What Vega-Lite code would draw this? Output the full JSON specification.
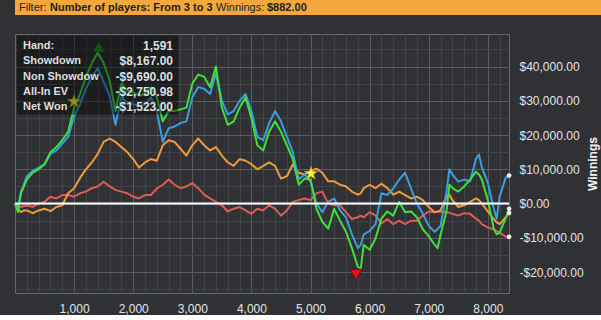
{
  "$schema": "https://vega.github.io/schema/vega-lite/v6.json",
  "background": "#2f3134",
  "padding": 0,
  "spacing": 18,
  "config": {
    "font": "Liberation Sans",
    "axis": {"labelFont": "Liberation Sans", "titleFont": "Liberation Sans"},
    "text": {"font": "Liberation Sans"}
  },
  "datasets": {
    "header": [{"f": "Filter:", "p": "Number of players: From 3 to 3", "wl": "Winnings:", "wv": "$882.00"}],
    "summary": [
      {"k": "Hand:", "v": "1,591"},
      {"k": "Showdown", "v": "$8,167.00"},
      {"k": "Non Showdown", "v": "-$9,690.00"},
      {"k": "All-In EV", "v": "-$2,750.98"},
      {"k": "Net Won", "v": "-$1,523.00"}
    ],
    "marks": [
      {"m": "max", "h": 1421, "w": 45700},
      {"m": "min", "h": 5770, "w": -20700},
      {"m": "star", "h": 998, "w": 29800},
      {"m": "star", "h": 5008, "w": 8800}
    ],
    "series": [
      {"h": 0, "sd": 0, "ns": 0, "ev": 0, "nw": 0},
      {"h": 50, "sd": -1500, "ns": -500, "ev": -1500, "nw": -2500},
      {"h": 100, "sd": 3500, "ns": -1000, "ev": -2500, "nw": 3000},
      {"h": 150, "sd": 5500, "ns": -800, "ev": -2000, "nw": 5000},
      {"h": 200, "sd": 8000, "ns": -500, "ev": -2000, "nw": 7000},
      {"h": 300, "sd": 9500, "ns": -1000, "ev": -2800, "nw": 9000},
      {"h": 400, "sd": 10500, "ns": 0, "ev": -2000, "nw": 10000},
      {"h": 500, "sd": 11500, "ns": 500, "ev": -1500, "nw": 11500},
      {"h": 600, "sd": 14500, "ns": 2000, "ev": -2200, "nw": 15000},
      {"h": 700, "sd": 15500, "ns": 1500, "ev": -1000, "nw": 16500},
      {"h": 800, "sd": 17500, "ns": 2500, "ev": -500, "nw": 18500},
      {"h": 900, "sd": 19500, "ns": 2500, "ev": 3000, "nw": 21000},
      {"h": 1000, "sd": 25500, "ns": 2000, "ev": 4500, "nw": 28000},
      {"h": 1100, "sd": 29000, "ns": 3000, "ev": 7500, "nw": 32000},
      {"h": 1200, "sd": 33500, "ns": 3500, "ev": 10000, "nw": 37000},
      {"h": 1300, "sd": 37000, "ns": 4500, "ev": 12000, "nw": 41000},
      {"h": 1400, "sd": 39500, "ns": 5000, "ev": 14500, "nw": 44000},
      {"h": 1500, "sd": 35500, "ns": 6400, "ev": 18000, "nw": 41000},
      {"h": 1600, "sd": 31500, "ns": 5000, "ev": 19000, "nw": 36000},
      {"h": 1700, "sd": 23000, "ns": 4000, "ev": 18000, "nw": 27000},
      {"h": 1800, "sd": 31000, "ns": 3500, "ev": 16500, "nw": 35000},
      {"h": 1900, "sd": 29500, "ns": 3000, "ev": 15000, "nw": 33000},
      {"h": 2000, "sd": 29000, "ns": 2000, "ev": 13000, "nw": 32500},
      {"h": 2100, "sd": 28500, "ns": 1500, "ev": 10500, "nw": 31500},
      {"h": 2200, "sd": 29000, "ns": 2500, "ev": 12000, "nw": 32000},
      {"h": 2300, "sd": 31000, "ns": 2500, "ev": 13000, "nw": 34000},
      {"h": 2400, "sd": 27000, "ns": 4400, "ev": 12500, "nw": 31000},
      {"h": 2500, "sd": 18000, "ns": 5500, "ev": 17000, "nw": 24000},
      {"h": 2600, "sd": 22000, "ns": 7000, "ev": 18500, "nw": 27000},
      {"h": 2700, "sd": 22500, "ns": 5500, "ev": 18000, "nw": 27000},
      {"h": 2800, "sd": 23500, "ns": 4500, "ev": 16000, "nw": 27500},
      {"h": 2900, "sd": 24000, "ns": 5000, "ev": 14000, "nw": 28000},
      {"h": 3000, "sd": 31000, "ns": 6000, "ev": 17000, "nw": 35000},
      {"h": 3100, "sd": 34000, "ns": 4500, "ev": 19000, "nw": 37700},
      {"h": 3200, "sd": 33500, "ns": 2600, "ev": 17000, "nw": 37000},
      {"h": 3300, "sd": 32000, "ns": 1500, "ev": 15500, "nw": 34000},
      {"h": 3400, "sd": 38000, "ns": 500, "ev": 16500, "nw": 40000},
      {"h": 3500, "sd": 30000, "ns": -500, "ev": 14000, "nw": 28000},
      {"h": 3600, "sd": 26000, "ns": -2300, "ev": 12000, "nw": 23000},
      {"h": 3700, "sd": 27000, "ns": -1500, "ev": 11000, "nw": 24000},
      {"h": 3800, "sd": 30000, "ns": -1000, "ev": 13000, "nw": 28000},
      {"h": 3900, "sd": 32000, "ns": -2000, "ev": 12500, "nw": 31000},
      {"h": 4000, "sd": 27000, "ns": -3000, "ev": 11500, "nw": 25000},
      {"h": 4100, "sd": 19500, "ns": -1500, "ev": 10000, "nw": 17000},
      {"h": 4200, "sd": 18500, "ns": -2000, "ev": 11000, "nw": 15500},
      {"h": 4300, "sd": 23500, "ns": -500, "ev": 12000, "nw": 21000},
      {"h": 4400, "sd": 27000, "ns": -1500, "ev": 11000, "nw": 24000},
      {"h": 4500, "sd": 24000, "ns": -3500, "ev": 7300, "nw": 21000},
      {"h": 4600, "sd": 19500, "ns": -2000, "ev": 8000, "nw": 17000},
      {"h": 4700, "sd": 15000, "ns": 500, "ev": 11400, "nw": 13000},
      {"h": 4800, "sd": 7000, "ns": 1000, "ev": 9000, "nw": 5500},
      {"h": 4900, "sd": 8500, "ns": 1500, "ev": 8500, "nw": 7300},
      {"h": 5000, "sd": 6500, "ns": 1000, "ev": 9500, "nw": 7000},
      {"h": 5100, "sd": 0, "ns": 3000, "ev": 10200, "nw": -1500},
      {"h": 5200, "sd": -2500, "ns": 3500, "ev": 9000, "nw": -5300},
      {"h": 5300, "sd": 500, "ns": 0, "ev": 6500, "nw": -7300},
      {"h": 5400, "sd": 1500, "ns": -500, "ev": 6500, "nw": -1500},
      {"h": 5500, "sd": -2000, "ns": -500, "ev": 5500, "nw": -5000},
      {"h": 5600, "sd": -4000, "ns": -2500, "ev": 5000, "nw": -8200},
      {"h": 5700, "sd": -9000, "ns": -4500, "ev": 3500, "nw": -13000},
      {"h": 5800, "sd": -13000, "ns": -4000, "ev": 2600, "nw": -18500},
      {"h": 5850, "sd": -12000, "ns": -3500, "ev": 3000, "nw": -19000},
      {"h": 5900, "sd": -9000, "ns": -4000, "ev": 4500, "nw": -12000},
      {"h": 6000, "sd": -8000, "ns": -2500, "ev": 5500, "nw": -13500},
      {"h": 6100, "sd": -6000, "ns": -3500, "ev": 4500, "nw": -10200},
      {"h": 6200, "sd": 3000, "ns": -5800, "ev": 5800, "nw": -4400},
      {"h": 6300, "sd": 2500, "ns": -4500, "ev": 4500, "nw": -2300},
      {"h": 6400, "sd": 4400, "ns": -6000, "ev": 2600, "nw": -3500},
      {"h": 6500, "sd": 7000, "ns": -5000, "ev": 3500, "nw": 500},
      {"h": 6600, "sd": 9000, "ns": -6000, "ev": 2500, "nw": -2500},
      {"h": 6700, "sd": 4400, "ns": -5000, "ev": 1500, "nw": -2300},
      {"h": 6800, "sd": 0, "ns": -5000, "ev": 2000, "nw": -4000},
      {"h": 6900, "sd": -3000, "ns": -3500, "ev": 1000, "nw": -7500},
      {"h": 7000, "sd": -6500, "ns": -2300, "ev": -1000, "nw": -9500},
      {"h": 7100, "sd": -8200, "ns": -2500, "ev": -2500, "nw": -12000},
      {"h": 7150, "sd": -7400, "ns": -2400, "ev": -2300, "nw": -13000},
      {"h": 7200, "sd": -6500, "ns": -2300, "ev": -2000, "nw": -9000},
      {"h": 7300, "sd": 3500, "ns": -2500, "ev": 2000, "nw": -2300},
      {"h": 7350, "sd": 10000, "ns": -2700, "ev": 2600, "nw": 5500},
      {"h": 7400, "sd": 8500, "ns": -3000, "ev": 1000, "nw": 4500},
      {"h": 7500, "sd": 6400, "ns": -3500, "ev": -1000, "nw": 3500},
      {"h": 7600, "sd": 7000, "ns": -2800, "ev": -500, "nw": 5000},
      {"h": 7700, "sd": 6500, "ns": -3000, "ev": 500, "nw": 7000},
      {"h": 7800, "sd": 13100, "ns": -4400, "ev": 1500, "nw": 9300},
      {"h": 7850, "sd": 14300, "ns": -5000, "ev": 1000, "nw": 8500},
      {"h": 7900, "sd": 10500, "ns": -6000, "ev": 0, "nw": 7000},
      {"h": 8000, "sd": 6000, "ns": -7000, "ev": -2300, "nw": 1000},
      {"h": 8100, "sd": -1500, "ns": -7500, "ev": -4500, "nw": -7300},
      {"h": 8150, "sd": -4400, "ns": -8000, "ev": -5500, "nw": -9000},
      {"h": 8200, "sd": 2000, "ns": -8500, "ev": -6000, "nw": -8500},
      {"h": 8300, "sd": 7500, "ns": -9600, "ev": -4000, "nw": -4400},
      {"h": 8360, "sd": 8167, "ns": -9690, "ev": -2751, "nw": -1523}
    ]
  },
  "vconcat": [
    {
      "width": 601,
      "height": 15,
      "view": {"fill": "#f3a73d", "stroke": null},
      "data": {"name": "header"},
      "encoding": {},
      "layer": [
        {
          "mark": {"type": "text", "align": "left", "baseline": "middle", "fontSize": 11, "color": "#1e1e1e"},
          "encoding": {
            "x": {"datum": 4, "type": "quantitative", "scale": {"domain": [0, 601], "nice": false, "zero": false}, "axis": null},
            "text": {"field": "f"}
          }
        },
        {
          "mark": {"type": "text", "align": "left", "baseline": "middle", "fontSize": 11, "fontWeight": "bold", "color": "#1e1e1e"},
          "encoding": {
            "x": {"datum": 35, "type": "quantitative", "axis": null},
            "text": {"field": "p"}
          }
        },
        {
          "mark": {"type": "text", "align": "left", "baseline": "middle", "fontSize": 11, "color": "#1e1e1e"},
          "encoding": {
            "x": {"datum": 201, "type": "quantitative", "axis": null},
            "text": {"field": "wl"}
          }
        },
        {
          "mark": {"type": "text", "align": "left", "baseline": "middle", "fontSize": 11, "fontWeight": "bold", "color": "#1e1e1e"},
          "encoding": {
            "x": {"datum": 252, "type": "quantitative", "axis": null},
            "text": {"field": "wv"}
          }
        }
      ]
    },
    {
      "width": 494,
      "height": 259,
      "view": {"stroke": "#66696d", "strokeWidth": 1},
      "resolve": {"scale": {"y": "independent"}, "axis": {"x": "independent", "y": "independent"}},
      "layer": [
        {
          "resolve": {"axis": {"x": "independent", "y": "independent"}},
          "layer": [
            {
              "data": {"name": "series"},
              "transform": [{"fold": ["ns", "ev", "sd", "nw"], "as": ["series", "winnings"]}],
              "mark": {"type": "line", "strokeWidth": 2, "strokeJoin": "round"},
              "encoding": {
                "x": {
                  "field": "h", "type": "quantitative",
                  "scale": {"domain": [0, 8358], "nice": false, "zero": false},
                  "axis": {
                    "orient": "bottom", "values": [1000, 2000, 3000, 4000, 5000, 6000, 7000, 8000], "format": ",.0f",
                    "grid": true, "gridColor": "#595c60", "gridWidth": 1,
                    "ticks": false, "tickSize": 0, "domain": false,
                    "labelPadding": 10, "labelFontSize": 12, "labelColor": "#e4e4e4", "title": null
                  }
                },
                "y": {
                  "field": "winnings", "type": "quantitative",
                  "scale": {"domain": [-26100, 49500], "nice": false, "zero": false},
                  "axis": {
                    "orient": "right", "values": [-20000, -10000, 0, 10000, 20000, 30000, 40000],
                    "labelExpr": "replace(format(datum.value, '$,.2f'), '\u2212', '-')",
                    "grid": true, "gridColor": "#595c60", "gridWidth": 1,
                    "ticks": false, "tickSize": 0, "domain": false,
                    "labelPadding": 10, "labelAlign": "left", "labelFontSize": 12, "labelColor": "#e4e4e4",
                    "title": "Winnings", "titleFontSize": 12, "titleFontWeight": "bold", "titleColor": "#f2f2f2",
                    "titleAngle": 270, "titlePadding": 16
                  }
                },
                "color": {
                  "field": "series", "type": "nominal",
                  "scale": {"domain": ["ns", "ev", "sd", "nw"], "range": ["#e05a58", "#f09a3e", "#3e9ddd", "#3fe03c"]},
                  "legend": null
                }
              }
            },
            {
              "data": {"name": "series"},
              "transform": [
                {"fold": ["ns", "ev", "sd", "nw"], "as": ["series", "winnings"]},
                {"filter": "datum.h == 8360"}
              ],
              "mark": {"type": "point", "filled": true, "fill": "#f4eee2", "size": 22, "opacity": 1},
              "encoding": {
                "x": {
                  "field": "h", "type": "quantitative",
                  "axis": {
                    "orient": "top",
                    "values": [200, 400, 600, 800, 1200, 1400, 1600, 1800, 2200, 2400, 2600, 2800, 3200, 3400, 3600, 3800, 4200, 4400, 4600, 4800, 5200, 5400, 5600, 5800, 6200, 6400, 6600, 6800, 7200, 7400, 7600, 7800, 8200],
                    "grid": true, "gridColor": "#414447", "labels": false, "ticks": false, "domain": false, "title": null,
                    "minExtent": 0, "maxExtent": 0
                  }
                },
                "y": {
                  "field": "winnings", "type": "quantitative",
                  "axis": {
                    "orient": "left",
                    "values": [-25000, -15000, -5000, 5000, 15000, 25000, 35000, 45000],
                    "grid": true, "gridColor": "#414447", "labels": false, "ticks": false, "domain": false, "title": null,
                    "minExtent": 14, "maxExtent": 14
                  }
                }
              }
            },
            {
              "data": {"values": [{}]},
              "mark": {"type": "rule", "color": "#ffffff", "strokeWidth": 2},
              "encoding": {"y": {"datum": 0, "type": "quantitative", "axis": null}}
            },
            {
              "data": {"name": "marks"},
              "transform": [{"filter": "datum.m == 'max'"}],
              "mark": {"type": "point", "shape": "triangle-up", "filled": true, "color": "#1c8f2c", "size": 120, "opacity": 1},
              "encoding": {
                "x": {"field": "h", "type": "quantitative", "axis": null},
                "y": {"field": "w", "type": "quantitative", "axis": null}
              }
            },
            {
              "data": {"name": "marks"},
              "transform": [{"filter": "datum.m == 'min'"}],
              "mark": {"type": "point", "shape": "triangle-down", "filled": true, "color": "#e3121a", "stroke": "#6a0a0a", "strokeWidth": 1, "size": 150, "opacity": 1},
              "encoding": {
                "x": {"field": "h", "type": "quantitative", "axis": null},
                "y": {"field": "w", "type": "quantitative", "axis": null}
              }
            },
            {
              "data": {"name": "marks"},
              "transform": [{"filter": "datum.m == 'star'"}],
              "mark": {"type": "point", "shape": "M0,-1L0.2245,-0.309L0.951,-0.309L0.363,0.118L0.588,0.809L0,0.382L-0.588,0.809L-0.363,0.118L-0.951,-0.309L-0.2245,-0.309Z", "filled": true, "color": "#fff03a", "stroke": "#a89a10", "strokeWidth": 0.6, "size": 200, "opacity": 1},
              "encoding": {
                "x": {"field": "h", "type": "quantitative", "axis": null},
                "y": {"field": "w", "type": "quantitative", "axis": null}
              }
            },
            {
              "data": {"values": [{}]},
              "mark": {"type": "rect", "fill": "#000000", "opacity": 0.42},
              "encoding": {
                "x": {"datum": 34, "type": "quantitative", "axis": null},
                "x2": {"datum": 2758},
                "y": {"datum": 49050, "type": "quantitative", "axis": null},
                "y2": {"datum": 25985}
              }
            }
          ]
        },
        {
          "data": {"name": "summary"},
          "encoding": {
            "y": {"field": "k", "type": "nominal", "sort": null, "scale": {"type": "point", "range": [12, 73], "padding": 0}, "axis": null}
          },
          "layer": [
            {
              "mark": {"type": "text", "align": "left", "baseline": "middle", "fontSize": 11, "fontWeight": "bold", "color": "#dedede", "limit": 79, "ellipsis": "\u200b"},
              "encoding": {
                "x": {"datum": 135, "type": "quantitative", "axis": null},
                "text": {"field": "k"}
              }
            },
            {
              "mark": {"type": "text", "align": "right", "baseline": "middle", "fontSize": 12, "fontWeight": "bold", "color": "#dedede"},
              "encoding": {
                "x": {"datum": 2673, "type": "quantitative", "axis": null},
                "text": {"field": "v"}
              }
            }
          ]
        }
      ]
    }
  ]
}
